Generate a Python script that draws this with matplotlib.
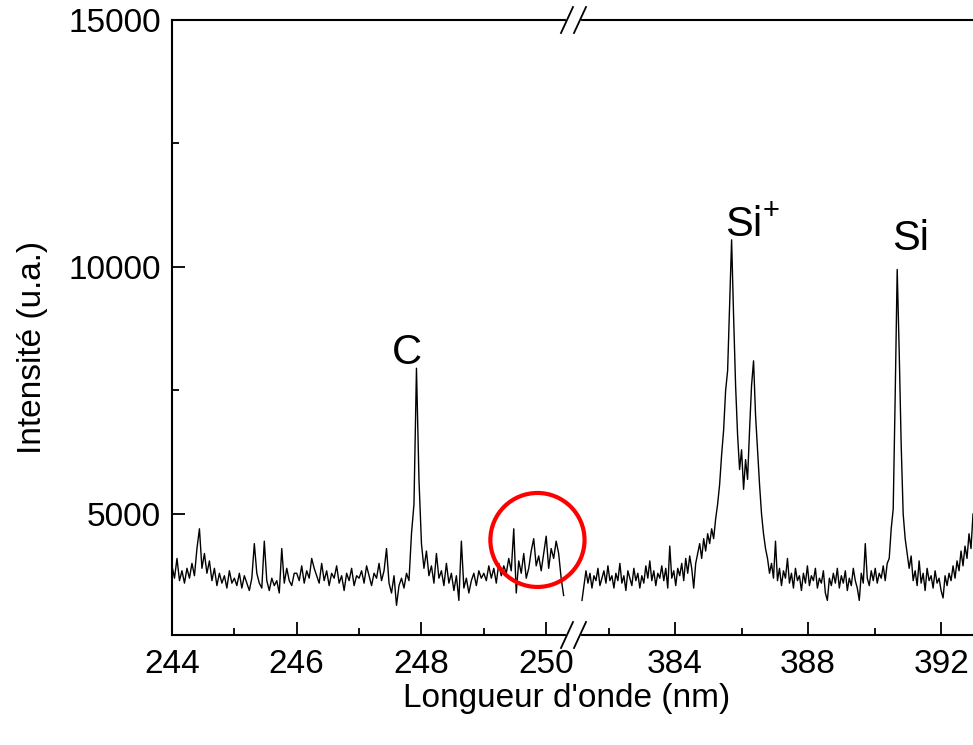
import numpy as np
import matplotlib
matplotlib.use("Agg")
import matplotlib.pyplot as plt
from matplotlib.patches import Ellipse
from matplotlib.lines import Line2D

plt.rcParams['font.family'] = ['Liberation Sans', 'DejaVu Sans']
plt.rcParams['mathtext.fontset'] = 'custom'
plt.rcParams['mathtext.rm'] = 'Liberation Sans'

# ---------------- data ----------------
# left segment: 244.00 .. 250.28 nm
left_start, left_stop = 244.00, 250.28
left_intensity = [
    3950, 3700, 4100, 3650, 3850, 3600, 3900, 3700, 4000, 3750, 4300, 4700, 3900, 4200, 3800, 4050, 3650, 3900, 3550, 3800, 3600, 3750, 3500, 3850, 3600,
    3700, 3550, 3800, 3500, 3750, 3600, 3450, 3700, 4400, 3800, 3600, 3500, 4450, 3650, 3450, 3700, 3550, 3650, 3400, 4300, 3600, 3900, 3650, 3550, 3800,
    3800, 3650, 3950, 3600, 3850, 3700, 4100, 3900, 3750, 3600, 4000, 3650, 3850, 3550, 3800, 3700, 3950, 3600, 3750, 3450, 3800, 3650, 3900, 3550, 3750,
    3700, 3850, 3600, 3950, 3750, 3550, 3800, 3700, 4000, 3650, 3850, 4300, 3600, 3400, 3750, 3150, 3550, 3700, 3500, 3800, 3650, 4600, 5200, 7950, 5700,
    4400, 3900, 4250, 3750, 3950, 3600, 4200, 3700, 3850, 3550, 4000, 3600, 3800, 3450, 3750, 3250, 4450, 3500, 3700, 3400, 3650, 3800, 3550, 3850, 3700,
    3800, 3650, 3950, 3700, 3900, 3600, 4000, 3750, 3950, 3800, 4100, 3850, 4700, 3400, 4050, 3800, 4200, 3700, 3900, 4250, 4500, 3950, 4150, 3850, 4200,
    4550, 3900, 4300, 4100, 4450, 4200, 3700, 3350,
]

# right segment: 381.20 .. 392.96 nm
right_start, right_stop = 381.20, 392.96
right_intensity = [
    3250, 3550, 3850, 3600, 3800, 3500, 3750, 3650, 3900, 3550,
    3700, 3850, 3600, 3950, 3650, 3750, 3500, 3800, 3650, 4000,
    3600, 3750, 3450, 3850, 3700, 3550, 3900, 3650, 3800, 3500,
    3750, 3600, 3950, 3700, 4050, 3650, 3850, 3550, 3800, 3700,
    3950, 3650, 3900, 3500, 4350, 3700, 3850, 3550, 3900, 3750,
    4000, 3650, 4100, 3800, 4150, 3900, 3500, 4000,
    4200, 4400, 4100, 4500, 4250, 4600, 4400, 4700, 4500, 4900,
    5200, 5600, 6200, 6700, 7500, 7900, 9200, 10550, 9000, 7600,
    6600, 5900, 6300, 5500, 6100, 5700, 6700, 7600, 8100, 7000,
    6300, 5600, 5000, 4600, 4300, 4100, 3800,
    4000, 3700, 4450, 3650, 3900, 3550, 3850, 3700, 4100, 3600,
    3800, 3500, 3900, 3650, 3750, 3450, 3800, 3600, 3950, 3550,
    3750, 3650, 3900, 3500, 3700, 3600, 3850, 3400, 3250, 3700,
    3550, 3800, 3600, 3900, 3500, 3750, 3600, 3850, 3450, 3700,
    3550, 3900, 3650, 3500, 3250, 3800, 3600, 4400, 3700, 3550,
    3850, 3650, 3900, 3600, 3800, 3700, 3950, 3650, 4000,
    4100, 4700, 5100, 7400, 9950, 8300, 6400, 5000, 4500, 4200,
    3900, 4150, 3650, 3850, 3550, 4050, 3600, 3800, 3450, 3900,
    3650, 3750, 3500, 3850, 3600, 3700, 3450, 3300, 3750, 3550,
    3800, 3650, 3950, 3700, 4050, 3850, 4250, 3950, 4350, 4100, 4600, 4300, 5000,
]

left_wl = np.linspace(left_start, left_stop, len(left_intensity))
right_wl = np.linspace(right_start, right_stop, len(right_intensity))

left_major = [244, 246, 248, 250]
left_minor = [245, 247, 249]
right_major = [384, 388, 392]
right_minor = [382, 386, 390]
y_major = [5000, 10000, 15000]
y_minor = [7500, 12500]

peak_labels = [("C", "left", 247.76, 8036),
               (r"Si$^{\mathregular{+}}$", "right", 386.32, 10627),
               ("Si", "right", 391.07, 10343)]

# ---------------- figure ----------------
W, H = 973, 745
fig = plt.figure(figsize=(W / 100, H / 100), dpi=100)

x0, xb, x1 = 172, 573, 973
ytop, ybot = 20, 635
b = (H - ybot) / H
h = (ybot - ytop) / H
axL = fig.add_axes([x0 / W, b, (xb - x0) / W, h])
axR = fig.add_axes([xb / W, b, (x1 - xb) / W, h])
axL.set_zorder(axR.get_zorder() + 1)

for ax in (axL, axR):
    ax.set_ylim(2550, 15000)
    for s in ax.spines.values():
        s.set_linewidth(1.5)
    ax.tick_params(which='both', direction='in', width=1.3, labelsize=24)
    ax.tick_params(which='major', length=9.5)
    ax.tick_params(which='minor', length=5)
    ax.tick_params(axis='x', pad=10)
    ax.tick_params(axis='y', pad=8)
    ax.tick_params(top=False, right=False)

axL.plot(left_wl, left_intensity, color='black', lw=1.0)
axR.plot(right_wl, right_intensity, color='black', lw=1.0)

axL.set_xlim(244, 250.43)
axR.set_xlim(380.93, 392.96)

axL.set_xticks(left_major)
axL.set_xticks(left_minor, minor=True)
axR.set_xticks(right_major)
axR.set_xticks(right_minor, minor=True)
axL.set_yticks(y_major)
axL.set_yticks(y_minor, minor=True)
axR.set_yticks([])
axR.set_yticks([], minor=True)

axL.spines['right'].set_visible(False)
axR.spines['left'].set_visible(False)
axR.spines['right'].set_visible(False)

for txt, side, xv, yv in peak_labels:
    ax = axL if side == "left" else axR
    ax.text(xv, yv, txt, fontsize=30, ha='center', va='baseline')

# red circle
circ = Ellipse((249.86, 4474), width=94 / 62.25, height=94 * 5000 / 247,
               fill=False, edgecolor='#ff0000', lw=3, clip_on=False, zorder=5)
axL.add_patch(circ)

# axis break marks
for yc in (ytop, ybot):
    fig.add_artist(Line2D([568 / W, 579 / W], [(H - yc) / H] * 2,
                          color='white', lw=3, zorder=10))
    for xc in (567, 580):
        fig.add_artist(Line2D([(xc - 6) / W, (xc + 6) / W],
                              [(H - yc - 13) / H, (H - yc + 13) / H],
                              color='black', lw=1.3, zorder=11))

fig.text(567 / W, (H - 698) / H, "Longueur d'onde (nm)", fontsize=24,
         ha='center', va='center')
fig.text(33 / W, (H - 347) / H, "Intensité (u.a.)", fontsize=24,
         ha='center', va='center', rotation=90)

fig.savefig("out.png", dpi=100)
